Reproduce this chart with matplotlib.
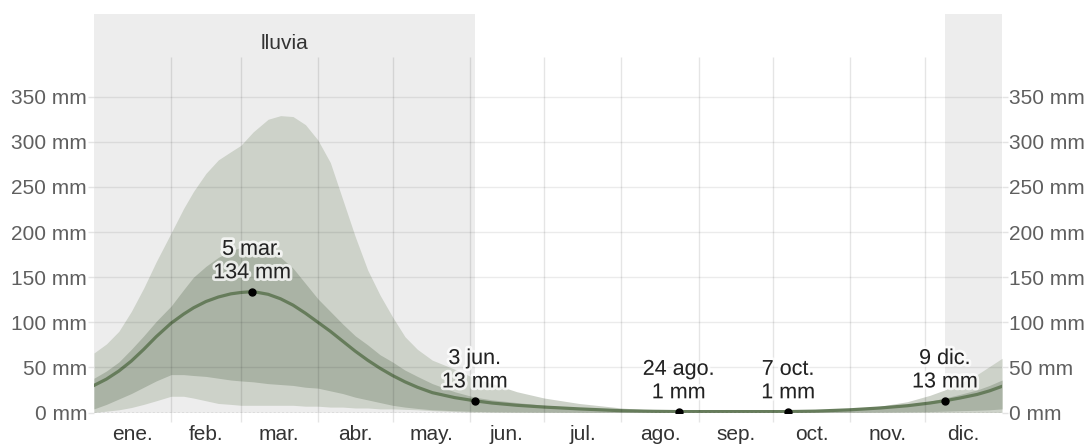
import matplotlib
matplotlib.use('Agg')
import matplotlib.pyplot as plt
import matplotlib.patheffects as pe

plt.rcParams['font.family'] = ['Liberation Sans', 'DejaVu Sans']

# meses y limites (dia del anio)
MESES = ['ene.', 'feb.', 'mar.', 'abr.', 'may.', 'jun.',
         'jul.', 'ago.', 'sep.', 'oct.', 'nov.', 'dic.']
INICIO_MES = [0, 31, 59, 90, 120, 151, 181, 212, 243, 273, 304, 334, 365]

# lluvia acumulada 31 dias (mm)
DIAS = [0, 5, 10, 15, 20, 25, 31, 36, 40, 45,
        50, 55, 59, 64, 70, 75, 80, 85, 90, 95,
        100, 105, 110, 115, 120, 125, 130, 136, 145, 153,
        160, 170, 181, 195, 212, 225, 235, 250, 265, 279,
        290, 304, 316, 327, 336, 342, 348, 355, 360, 365]
MEDIA = [30, 37, 46, 57, 70, 84, 99, 109, 116, 123,
         128, 131.5, 133, 134, 131, 126, 119, 110, 100, 90,
         79, 68, 58, 49, 41, 34, 28, 22, 16.5, 13,
         10.5, 8, 6, 4, 2, 1.3, 1, 1, 1, 1,
         1.5, 3, 5, 7.5, 10.5, 13, 16, 20, 24, 29]
P90 = [66, 76, 90, 112, 138, 167, 199, 226, 245, 265,
       280, 289, 296, 311, 325, 329, 328, 319, 302, 277,
       236, 195, 158, 130, 106, 84, 70, 58, 48, 38,
       32, 23, 16, 10, 5, 2.5, 1.5, 1, 1, 1,
       2, 4, 7, 12, 19, 25, 32, 42, 51, 60]
P75 = [38, 46, 56, 70, 85, 101, 118, 136, 150, 162,
       172, 179, 183, 187, 184, 172, 160, 143, 126, 112,
       98, 85, 75, 64, 56, 47, 40, 32, 23, 17,
       14, 11, 8, 5, 3, 1.8, 1.3, 1.2, 1.2, 1.2,
       2, 4, 6, 9, 12.5, 16, 20, 25, 30, 36]
P25 = [4, 9, 15, 21, 28, 35, 42, 42, 41, 40,
       38, 36, 35, 34, 32, 31, 30, 28, 27, 24,
       21, 17, 14, 11, 8, 6, 4.5, 3, 2, 1.2,
       1, 0.6, 0.4, 0.2, 0, 0, 0, 0, 0, 0,
       0, 0.2, 0.4, 0.7, 1, 1.5, 2, 2.5, 3, 4]
P10 = [0, 1.5, 3, 5.5, 9, 13, 18, 18, 16, 13,
       10, 9, 8, 8, 8, 8, 8, 7, 7, 6,
       6, 5, 5, 4, 4, 3.5, 3, 2, 1, 0.3,
       0, 0, 0, 0, 0, 0, 0, 0, 0, 0,
       0, 0, 0, 0, 0, 0, 0, 0, 0, 0]

# puntos destacados
PUNTOS_DIA = [63.5, 153, 235, 279, 342]
PUNTOS_MM = [134, 13, 1, 1, 13]
PUNTOS_TXT = ['5 mar.\n134 mm', '3 jun.\n13 mm', '24 ago.\n1 mm', '7 oct.\n1 mm', '9 dic.\n13 mm']

# temporada de lluvia
LLUVIA = [(0, 153), (342, 365)]

Y_TICKS = [0, 50, 100, 150, 200, 250, 300, 350]

fig = plt.figure(figsize=(10.88, 4.46), dpi=100)
ax = fig.add_axes([94 / 1088, (446 - 412.5) / 446, 908 / 1088, 398.5 / 446])
ymax = 350 * 398.5 / 315.8
ax.set_xlim(0, 365)
ax.set_ylim(0, ymax)

for a, b in LLUVIA:
    ax.axvspan(a, b, color='#ededed', zorder=0, lw=0)
ax.text((LLUVIA[0][0] + LLUVIA[0][1]) / 2, 409, 'lluvia', ha='center', va='center',
        fontsize=15, color='#333333')

ax.fill_between(DIAS, P10, P90, color='#cdd2c9', lw=0, zorder=1)
ax.fill_between(DIAS, P25, P75, color='#aab3a5', lw=0, zorder=2)
ax.plot(DIAS, MEDIA, color='#667c5b', lw=2.3, zorder=3, solid_joinstyle='round')

# rejilla
ax.hlines(Y_TICKS[1:], 0, 365, color='black', alpha=0.08, lw=1, zorder=4)
ax.vlines(INICIO_MES[1:-1], -10, 394, color='black', alpha=0.1, lw=1, zorder=4, clip_on=False)
ax.axhline(0, color='#9a9a9a', lw=1, ls=(0, (1.5, 1.5)), zorder=4)

ax.plot(PUNTOS_DIA, PUNTOS_MM, 'o', color='black', ms=5, zorder=6)
halo = [pe.withStroke(linewidth=4, foreground='white', alpha=0.75)]
for d, v, t in zip(PUNTOS_DIA, PUNTOS_MM, PUNTOS_TXT):
    ax.annotate(t, (d, v), xytext=(0, 6), textcoords='offset points', ha='center',
                va='bottom', fontsize=15.5, color='#222222', linespacing=1.15,
                path_effects=halo, zorder=7)

ax.set_yticks(Y_TICKS)
ax.set_yticklabels([f'{v} mm' for v in Y_TICKS])
ax.tick_params(axis='y', which='major', length=4, width=1, color='#e4e4e4', pad=1,
               labelsize=15, labelcolor='#5f5f5f', left=True, right=True,
               labelleft=True, labelright=True)

centros = [(INICIO_MES[i] + INICIO_MES[i + 1]) / 2 for i in range(12)]
ax.set_xticks([])
ax.set_xticks(centros, minor=True)
ax.set_xticklabels(MESES, minor=True)
ax.tick_params(axis='x', which='minor', length=0, pad=9, labelsize=15, labelcolor='#333333')

for s in ax.spines.values():
    s.set_visible(False)

plt.savefig('out.png', dpi=100, facecolor='white')
plt.close()
